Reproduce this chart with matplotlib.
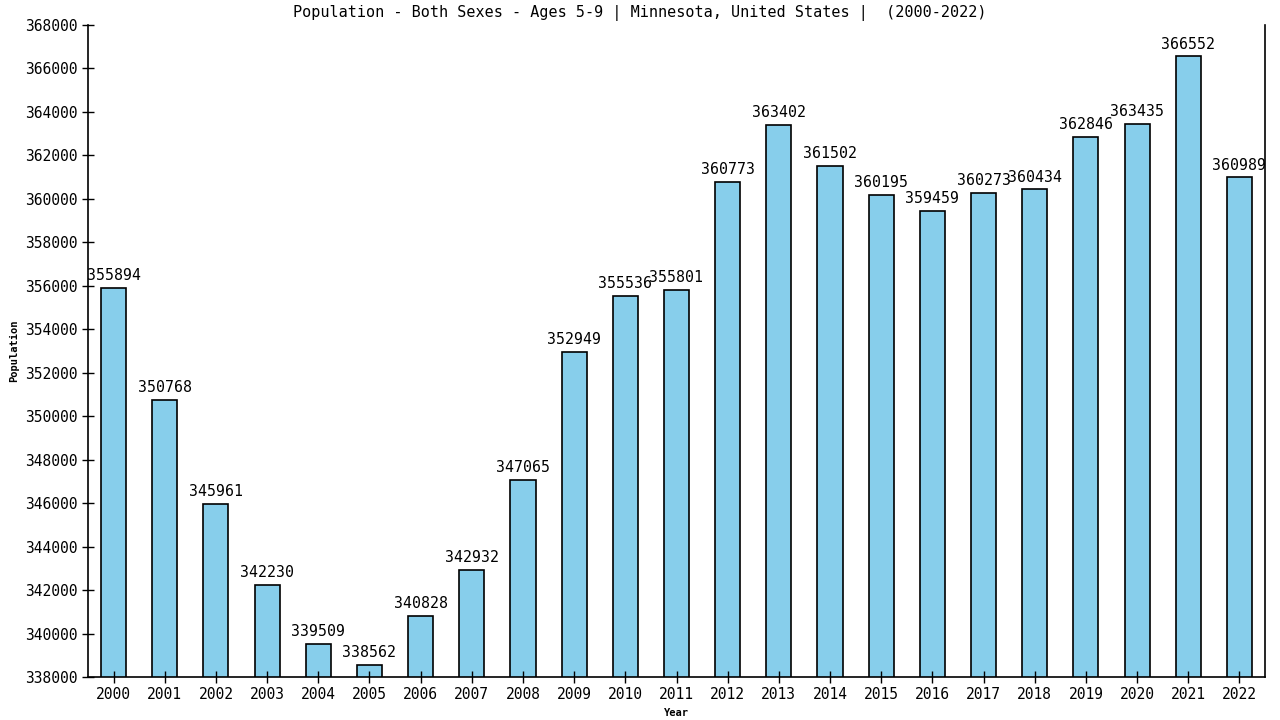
import matplotlib
matplotlib.use("Agg")
import matplotlib.pyplot as plt

years = [str(y) for y in range(2000, 2023)]
population = [355894, 350768, 345961, 342230, 339509, 338562, 340828, 342932,
              347065, 352949, 355536, 355801, 360773, 363402, 361502, 360195,
              359459, 360273, 360434, 362846, 363435, 366552, 360989]
y_ticks = list(range(338000, 368001, 2000))

plt.rcParams['font.family'] = ['DejaVu Sans Mono', 'DejaVu Sans']

fig = plt.figure(figsize=(12.8, 7.2), dpi=100)
ax = fig.add_axes([88 / 1280, 1 - 677 / 720, (1265 - 88) / 1280, (677 - 25) / 720])

x = list(range(len(years)))
ax.bar(x, population, width=0.49, color="#87CEEB", edgecolor="black", linewidth=1.2)

# value labels above each bar
for xi, val in zip(x, population):
    ax.annotate(str(val), (xi, val), textcoords="offset points", xytext=(0, 3.5),
                ha="center", va="bottom", fontsize=10.7, color="black")

ax.set_xlim(-0.5, 22.5)
ax.set_ylim(338000, 368000)
ax.set_xticks(x)
ax.set_xticklabels(years, fontsize=10.5)
ax.set_yticks(y_ticks)
ax.set_yticklabels([str(t) for t in y_ticks], fontsize=10.5)
ax.tick_params(axis="both", direction="inout", length=8, width=1)

ax.spines["top"].set_visible(False)
for s in ["left", "right", "bottom"]:
    ax.spines[s].set_linewidth(1.2)

ax.set_xlabel("Year", fontsize=7.5, fontweight="bold", labelpad=4)
ax.set_ylabel("Population", fontsize=7.5, fontweight="bold", labelpad=4)
fig.text(0.5, 1 - 13 / 720, "Population - Both Sexes - Ages 5-9 | Minnesota, United States |  (2000-2022)",
         ha="center", va="center", fontsize=10.9)

fig.savefig("out.png", dpi=100)
